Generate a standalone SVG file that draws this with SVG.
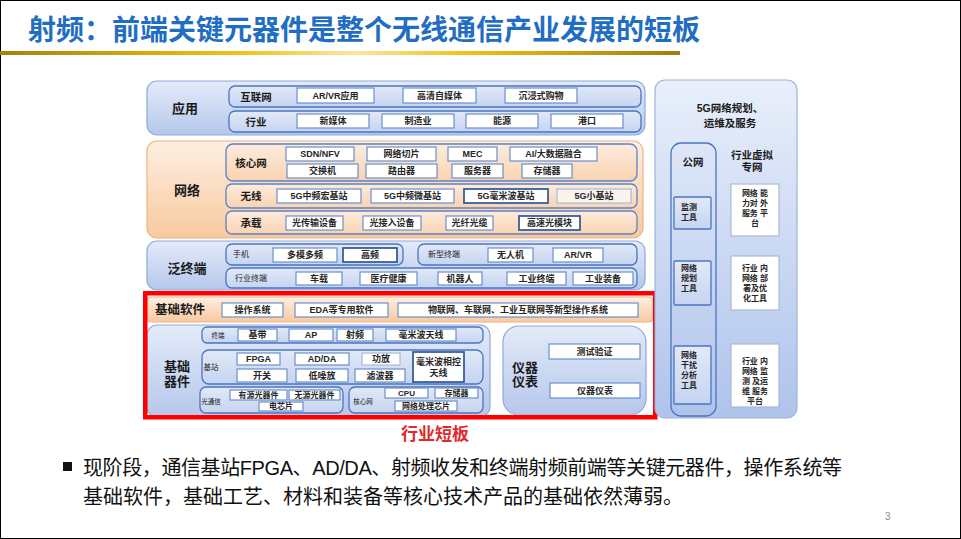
<svg xmlns="http://www.w3.org/2000/svg" width="961" height="539" viewBox="0 0 961 539">
<defs>
<linearGradient id="gold" x1="0" y1="0" x2="1" y2="0">
<stop offset="0" stop-color="#A4820F"/><stop offset="0.2" stop-color="#D6A60B"/><stop offset="0.36" stop-color="#F2C21A"/><stop offset="0.52" stop-color="#FBE6A4"/><stop offset="0.68" stop-color="#F2C21A"/><stop offset="0.86" stop-color="#C99A0C"/><stop offset="1" stop-color="#A07C10"/>
</linearGradient>
<linearGradient id="gBlue" x1="0" y1="0" x2="0" y2="1">
<stop offset="0" stop-color="#E4EBF9"/><stop offset="1" stop-color="#B5C7EB"/>
</linearGradient>
<linearGradient id="gRow" x1="0" y1="0" x2="0" y2="1">
<stop offset="0" stop-color="#E2E9F8"/><stop offset="1" stop-color="#C5D4F1"/>
</linearGradient>
<linearGradient id="gOr" x1="0" y1="0" x2="0" y2="1">
<stop offset="0" stop-color="#FDEFE2"/><stop offset="1" stop-color="#F8C99F"/>
</linearGradient>
<linearGradient id="gOrRow" x1="0" y1="0" x2="0" y2="1">
<stop offset="0" stop-color="#FDEBDC"/><stop offset="1" stop-color="#F9D3B1"/>
</linearGradient>
<linearGradient id="gSide" x1="0" y1="0" x2="0" y2="1">
<stop offset="0" stop-color="#E9EFFB"/><stop offset="1" stop-color="#AFC3EB"/>
</linearGradient>
</defs>
<style>
text { font-family: "Liberation Sans","Noto Sans CJK SC",sans-serif; }
.c { text-anchor: middle; dominant-baseline: central; }
.s { text-anchor: start; dominant-baseline: central; }
.bl { font-size: 13px; font-weight: bold; fill: #1A1A1A; }
.rl { font-size: 10.5px; font-weight: bold; fill: #1A1A1A; }
.sl { font-size: 8px; fill: #222; }
.xs { font-size: 6.5px; fill: #222; }
.bt { font-size: 9px; font-weight: bold; fill: #262626; }
.st { font-size: 8px; font-weight: bold; fill: #262626; }
.blk { fill: url(#gBlue); stroke: #8EA9DB; stroke-width: 1.2; }
.orb { fill: url(#gOr); stroke: #F2B07E; stroke-width: 1.2; }
.row { fill: url(#gRow); stroke: #4A75C1; stroke-width: 1.3; }
.orow { fill: url(#gOrRow); stroke: #5B83C6; stroke-width: 1.3; }
.box { fill: #FFFFFF; stroke: #6A90CC; stroke-width: 1.2; }
.boxd { fill: #FFFFFF; stroke: #2F5597; stroke-width: 1.7; }
.boxl { fill: #FFFFFF; stroke: #A9B9D8; stroke-width: 1.2; }
.side { fill: url(#gSide); stroke: #9DB3DC; stroke-width: 1.2; }
</style>
<rect x="0" y="0" width="961" height="539" fill="#FFFFFF"/>
<rect x="0.5" y="0.5" width="960" height="538" fill="none" stroke="#000" stroke-width="1"/>

<g id="title">
<text x="28" y="40" style="font-size:28px;font-weight:bold;fill:#1F6EC3">射频：前端关键元器件是整个无线通信产业发展的短板</text>
<rect x="0" y="51" width="680" height="4" fill="url(#gold)"/>
</g>

<g id="connectors"></g>

<g id="app">
<rect class="blk" x="147" y="81" width="498" height="54" rx="10"/>
<text class="c bl" x="185" y="108">应用</text>
<rect class="row" x="229" y="86" width="412" height="21" rx="6"/>
<text class="c rl" x="256" y="96.5">互联网</text>
<rect class="box" x="297" y="88" width="77" height="15"/><text class="c bt" x="335.5" y="95.5">AR/VR应用</text>
<rect class="box" x="403" y="88" width="73" height="15"/><text class="c bt" x="439.5" y="95.5">高清自媒体</text>
<rect class="box" x="505" y="88" width="72" height="15"/><text class="c bt" x="541" y="95.5">沉浸式购物</text>
<rect class="row" x="229" y="111" width="412" height="21" rx="6"/>
<text class="c rl" x="256" y="121.5">行业</text>
<rect class="box" x="297" y="114" width="72" height="14"/><text class="c bt" x="333" y="121">新媒体</text>
<rect class="box" x="382" y="114" width="72" height="14"/><text class="c bt" x="418" y="121">制造业</text>
<rect class="box" x="466" y="114" width="72" height="14"/><text class="c bt" x="502" y="121">能源</text>
<rect class="box" x="551" y="114" width="72" height="14"/><text class="c bt" x="587" y="121">港口</text>
</g>

<g id="network">
<rect class="orb" x="147" y="141" width="496" height="97" rx="10"/>
<text class="c bl" x="187" y="190">网络</text>
<rect class="orow" x="226" y="144" width="411" height="37" rx="7"/>
<text class="c rl" x="251" y="162.5">核心网</text>
<rect class="box" x="286" y="147" width="68" height="14"/><text class="c bt" x="320" y="154">SDN/NFV</text>
<rect class="box" x="367" y="147" width="69" height="14"/><text class="c bt" x="401.5" y="154">网络切片</text>
<rect class="box" x="448" y="147" width="49" height="14"/><text class="c bt" x="472.5" y="154">MEC</text>
<rect class="box" x="510" y="147" width="87" height="14"/><text class="c bt" x="553.5" y="154">AI/大数据融合</text>
<rect class="box" x="287" y="164" width="71" height="14"/><text class="c bt" x="322.5" y="171">交换机</text>
<rect class="box" x="366" y="164" width="71" height="14"/><text class="c bt" x="401.5" y="171">路由器</text>
<rect class="box" x="452" y="164" width="51" height="14"/><text class="c bt" x="477.5" y="171">服务器</text>
<rect class="box" x="522" y="164" width="50" height="14"/><text class="c bt" x="547" y="171">存储器</text>
<rect class="orow" x="226" y="184" width="411" height="24" rx="6"/>
<text class="c rl" x="251" y="196">无线</text>
<rect class="box" x="277" y="189" width="84" height="14"/><text class="c bt" x="319" y="196">5G中频宏基站</text>
<rect class="box" x="371" y="189" width="83" height="14"/><text class="c bt" x="412.5" y="196">5G中频微基站</text>
<rect class="boxd" x="464" y="189" width="84" height="14"/><text class="c bt" x="506" y="196">5G毫米波基站</text>
<rect class="boxl" x="557" y="189" width="74" height="14" style="fill:#FBF4EE"/><text class="c bt" x="594" y="196">5G小基站</text>
<rect class="orow" x="226" y="211" width="411" height="23" rx="6"/>
<text class="c rl" x="251" y="222.5">承载</text>
<rect class="box" x="286" y="216" width="57" height="14"/><text class="c bt" x="314.5" y="223">光传输设备</text>
<rect class="box" x="363" y="216" width="58" height="14"/><text class="c bt" x="392" y="223">光接入设备</text>
<rect class="box" x="446" y="216" width="47" height="14"/><text class="c bt" x="469.5" y="223">光纤光缆</text>
<rect class="boxd" x="519" y="216" width="61" height="14"/><text class="c bt" x="549.5" y="223">高速光模块</text>
</g>

<g id="terminal">
<rect class="blk" x="147" y="241" width="498" height="49" rx="10"/>
<text class="c bl" x="187" y="268">泛终端</text>
<rect class="row" x="226" y="244" width="177" height="21" rx="6"/>
<text class="c sl" x="241" y="254.5">手机</text>
<rect class="box" x="273" y="248" width="64" height="14"/><text class="c bt" x="305" y="255">多模多频</text>
<rect class="boxd" x="343" y="248" width="54" height="14"/><text class="c bt" x="370" y="255">高频</text>
<rect class="row" x="418" y="244" width="219" height="21" rx="6"/>
<text class="c sl" x="444" y="254.5">新型终端</text>
<rect class="box" x="488" y="248" width="45" height="14"/><text class="c bt" x="510.5" y="255">无人机</text>
<rect class="box" x="553" y="248" width="50" height="14"/><text class="c bt" x="578" y="255">AR/VR</text>
<rect class="row" x="226" y="268" width="411" height="20" rx="6"/>
<text class="c sl" x="251" y="278">行业终端</text>
<rect class="box" x="296" y="272" width="46" height="13"/><text class="c bt" x="319" y="278.5">车载</text>
<rect class="box" x="360" y="272" width="57" height="13"/><text class="c bt" x="388.5" y="278.5">医疗健康</text>
<rect class="box" x="438" y="272" width="44" height="13"/><text class="c bt" x="460" y="278.5">机器人</text>
<rect class="box" x="507" y="272" width="59" height="13"/><text class="c bt" x="536.5" y="278.5">工业终端</text>
<rect class="box" x="573" y="272" width="60" height="13"/><text class="c bt" x="603" y="278.5">工业装备</text>
</g>

<g id="software">
<rect x="147" y="297" width="506" height="25" rx="4" fill="url(#gOr)" stroke="#F4B183" stroke-width="1"/>
<text class="c" x="180" y="310" style="font-size:12.5px;font-weight:bold;fill:#1A1A1A">基础软件</text>
<rect class="box" x="222" y="303" width="61" height="14"/><text class="c bt" x="252.5" y="310">操作系统</text>
<rect class="box" x="295" y="303" width="93" height="14"/><text class="c bt" x="341.5" y="310">EDA等专用软件</text>
<rect class="box" x="398" y="303" width="240" height="14"/><text class="c bt" x="518" y="310">物联网、车联网、工业互联网等新型操作系统</text>
</g>

<g id="devices">
<rect class="blk" x="147" y="325" width="343" height="92" rx="10"/>
<text class="c bl" x="177" y="366">基础</text>
<text class="c bl" x="177" y="381">器件</text>
<rect class="row" x="202" y="327" width="281" height="16" rx="5"/>
<text class="c xs" x="218" y="335">终端</text>
<rect class="box" x="238" y="329" width="39" height="12"/><text class="c bt" x="257.5" y="335">基带</text>
<rect class="box" x="289" y="329" width="44" height="12"/><text class="c bt" x="311" y="335">AP</text>
<rect class="box" x="337" y="329" width="36" height="12"/><text class="c bt" x="355" y="335">射频</text>
<rect class="box" x="386" y="329" width="70" height="12"/><text class="c bt" x="421" y="335">毫米波天线</text>
<rect class="row" x="202" y="350" width="281" height="34" rx="7"/>
<text class="c xs" x="211" y="367" style="font-size:7.5px">基站</text>
<rect class="box" x="237" y="353" width="43" height="12"/><text class="c bt" x="258.5" y="359">FPGA</text>
<rect class="box" x="295" y="353" width="54" height="12"/><text class="c bt" x="322" y="359">AD/DA</text>
<rect class="boxl" x="362" y="353" width="38" height="12"/><text class="c bt" x="381" y="359">功放</text>
<rect class="boxd" x="413" y="352" width="51" height="30"/>
<text class="c bt" x="438.5" y="362">毫米波相控</text>
<text class="c bt" x="438.5" y="373">天线</text>
<rect class="box" x="237" y="369" width="50" height="13"/><text class="c bt" x="262" y="375.5">开关</text>
<rect class="box" x="296" y="369" width="52" height="13"/><text class="c bt" x="322" y="375.5">低噪放</text>
<rect class="box" x="355" y="369" width="50" height="13"/><text class="c bt" x="380" y="375.5">滤波器</text>
<rect class="row" x="200" y="387" width="143" height="26" rx="6"/>
<text class="c xs" x="211" y="401">光通信</text>
<rect class="box" x="230" y="390" width="57" height="10"/><text class="c st" x="258.5" y="395">有源光器件</text>
<rect class="box" x="289" y="390" width="51" height="10"/><text class="c st" x="314.5" y="395">无源光器件</text>
<rect class="box" x="259" y="402" width="44" height="9"/><text class="c st" x="281" y="406.5">电芯片</text>
<rect class="row" x="349" y="387" width="134" height="26" rx="6"/>
<text class="c xs" x="363" y="401">核心网</text>
<rect class="box" x="385" y="388" width="43" height="10"/><text class="c st" x="406.5" y="393">CPU</text>
<rect class="box" x="435" y="388" width="43" height="10"/><text class="c st" x="456.5" y="393">存储器</text>
<rect class="box" x="395" y="401" width="62" height="10"/><text class="c st" x="426" y="406">网络处理芯片</text>
</g>

<g id="instruments">
<rect class="blk" x="503" y="326" width="143" height="89" rx="16"/>
<text class="c bl" x="525" y="367">仪器</text>
<text class="c bl" x="525" y="381">仪表</text>
<rect class="box" x="549" y="344" width="91" height="15"/><text class="c bt" x="594.5" y="351.5">测试验证</text>
<rect class="box" x="550" y="383" width="90" height="15"/><text class="c bt" x="595" y="390.5">仪器仪表</text>
</g>

<g id="shortboard">
<rect x="145.25" y="293.25" width="510" height="124" fill="none" stroke="#FF0000" stroke-width="4.5"/>
<text class="c" x="435" y="434" style="font-size:17px;font-weight:bold;fill:#E0282D">行业短板</text>
</g>

<g id="service">
<rect class="side" x="655" y="80" width="142" height="338" rx="10"/>
<text class="c rl" x="730" y="108">5G网络规划、</text>
<text class="c rl" x="730" y="123">运维及服务</text>
<rect class="row" x="671" y="143" width="45" height="273" rx="10" style="fill:none"/>
<text class="c rl" x="693" y="162">公网</text>
<rect class="row" x="674" y="197" width="37" height="32" rx="1"/>
<text class="s st" x="681" y="207">监测</text>
<text class="s st" x="681" y="217">工具</text>
<rect class="row" x="674" y="261" width="37" height="44" rx="1"/>
<text class="s st" x="681" y="268">网络</text>
<text class="s st" x="681" y="278">规划</text>
<text class="s st" x="681" y="288">工具</text>
<rect class="row" x="674" y="346" width="37" height="58" rx="1"/>
<text class="s st" x="681" y="355">网络</text>
<text class="s st" x="681" y="365">干扰</text>
<text class="s st" x="681" y="375">分析</text>
<text class="s st" x="681" y="385">工具</text>
<text class="c rl" x="752" y="155">行业虚拟</text>
<text class="c rl" x="752" y="167">专网</text>
<rect class="boxl" x="731" y="184" width="48" height="52"/>
<text class="c st" x="755" y="193">网络 能</text>
<text class="c st" x="755" y="203">力对 外</text>
<text class="c st" x="755" y="213">服务 平</text>
<text class="c st" x="755" y="223">台</text>
<rect class="boxl" x="731" y="256" width="48" height="54"/>
<text class="c st" x="755" y="268">行业 内</text>
<text class="c st" x="755" y="278">网络 部</text>
<text class="c st" x="755" y="288">署及优</text>
<text class="c st" x="755" y="298">化工具</text>
<rect class="boxl" x="731" y="344" width="48" height="63"/>
<text class="c st" x="755" y="361">行业 内</text>
<text class="c st" x="755" y="371">网络 监</text>
<text class="c st" x="755" y="381">测 及运</text>
<text class="c st" x="755" y="391">维 服务</text>
<text class="c st" x="755" y="401">平台</text>
</g>

<g id="bullet">
<rect x="63" y="462" width="9" height="9" fill="#111"/>
<text x="83" y="474.5" style="font-size:20px;fill:#111" textLength="759">现阶段，通信基站FPGA、AD/DA、射频收发和终端射频前端等关键元器件，操作系统等</text>
<text x="83" y="504" style="font-size:20px;fill:#111">基础软件，基础工艺、材料和装备等核心技术产品的基础依然薄弱。</text>
<text x="885" y="520" style="font-size:10px;fill:#888">3</text>
</g>
</svg>
